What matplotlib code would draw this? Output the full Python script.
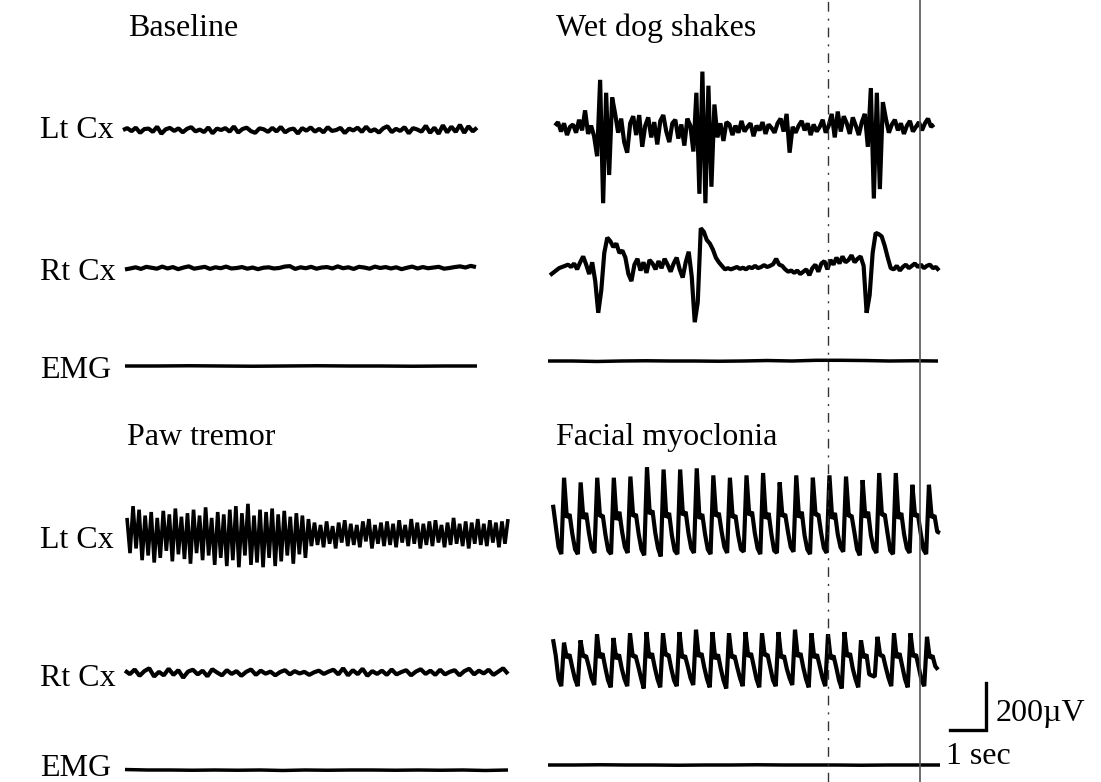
import numpy as np
from matplotlib import pyplot as plt

# Trace values in microvolts, evenly sampled along each sweep.
BASE_LT = [0, 8, -5, 10, -12, 4, 6, -8, 14, -16, 3, 9, -4, 7, -10, 5, 12, -6, 2, -9,
           11, -14, 6, 0, 8, -7, 15, -11, 4, 10, -5, -12, 7, 3, -8, 9, -6, 13, -10, 2,
           6, -15, 8, -3, 11, -7, 5, -10, 12, -4, 0, 9, -13, 6, -2, 10, -8, 14, -6, 3,
           -11, 7, 16, -9, 5, -4, 12, -14, 8, 2, -7, 18, -12, 10, -16, 20, -10, 14, -8, 22,
           -12, 16, -6, 10]
BASE_RT = [-6, -2, 3, -4, 5, 1, -3, 6, -2, 4, -5, 2, 7, -3, 1, 5, -4, 3, -1, 6,
           -2, 0, 4, -3, 2, -5, 1, 3, -2, 0, 6, 8, -4, 3, -1, 5, -3, 2, 4, -2,
           7, -1, 3, -4, 5, 2, -3, 6, 0, 4, -2, 3, -5, 1, 6, -2, 4, -1, 2, 5,
           -3, 0, 4, 7, 2, 9, 4]
BASE_EMG = [0, 0, 1, 0, -1, 0, 1, 0, 0, -1, 0, 0]

WDS_LT = [10, 25, -15, 20, -30, 5, 15, -20, 35, -10, 75, -25, 10, -35,
          -120, 205, -320, 150, -200, 130, 60,
          -20, 40, -60, -105, 20, 50, -30, 55, -80, 10, 45, -40, 25, -70, 30, 55, -15, -60,
          20, 35, -45, 15, -75, 40, 10,
          -100, 150, -280, 240, -320, 180, -250, 100,
          -40, 20, -55, 25, 15, -30, 10, -20, 30, -15, 5, 20, -35, 10, -10, 25, -25, 15, 0,
          -20, 20, 40, -15, 60, -105, 5, -20, 10, 30, -10, 20, -30, 15, -15, 5, 35, -20, 10,
          60, -40, 70, -15, 50, 20, -25, 45, 10, -30, 25, 60,
          -80, 170, -300, 150, -260, 110,
          40, -20, 15, 35, -10, 20, -25, 10, 30, -15, 5, 25, -10, 20, 40, 5, 15]
WDS_RT = [-35, -25, -15, -5, 0, 5, 10, 0, 15, -10, 20,
          45, 10, -30, 20, -60,
          -195, -100, 60, 125, 110,
          85, 100, 60, 70, 40, -30, -60, 10, 35, -15,
          20, -25, 30, 15, -10, 25, -5, 35, 10, -20, 15, 40, -10, -45, 20,
          65, -40, -235, -150, 165,
          150, 115, 100, 75, 40, 20, 5, -10,
          -5, -10, -5, 0, -8, -3, -10, 0, -5, 5, -5, 0, 8, 0, 5, 12, 35, 10, 5, -10, -20, -15,
          -25, -15, -30, -20, -10, -35, -5, 10, -20, 15, 25, -10, 30, 10, 40, 15, 45, 20, 30,
          50, 20, 35, 45, 5,
          -195, -120, 60, 145, 140, 130,
          90, 40, -5, -10, 5, -15, 0, 10, -5, 5, 15, 0, 10, -5, 5, 10, -5, 0, -15]
WDS_EMG = [0, 0, -2, 0, 1, 0, 0, -1, 0, 2, 0, 3, 3, 2, 0, 1, 0]

PAW_LT = [60, -90, 110, -70, 95, -120, 70, -100, 85, -130, 60, -110, 90, -80, 75, -125,
          100, -95, 65, -115, 80, -135, 95, -90, 70, -120, 105, -100, 60, -140, 85, -110,
          75, -145, 95, -120, 110, -150, 80, -100, 120, -140, 70, -130, 95, -150, 85, -110,
          100, -145, 75, -125, 90, -100, 65, -135, 80, -95, 70, -110, 55,
          -60, 40, -55, 30, -65, 45, -50, 25, -70, 40, -45, 50, -60, 35, -55, 30, -65, 45,
          -40, 55, -70, 30, -50, 40, -60, 45, -55, 35, -65, 50, -45, 30, -60, 55, -50, 40,
          -70, 35, -55, 45, -60, 50, -45, 30, -65, 40, -55, 60, -50, 35, -60, 45, -70, 40,
          -50, 55, -55, 35, -60, 50, -45, 40, -65, 45, -50, 55]
PAW_RT = [10, -5, 15, -12, 8, 20, -15, 5, -10, 18, -8, 12, -20, 6, 14, -6, 10, -14, 16, 2,
          -10, 12, -4, 8, -12, 5, 15, -8, 10, -3, 6, -10, 4, 12, -6, 8, -2, 5, -8, 3,
          10, -4, 6, 14, -6, 20, -10, 12, -5, 18, -12, 8, -4, 10, -8, 15, -6, 4, 12, -10,
          6, 16, -4, 10, -8, 14, -6, 5, 12, -10, 8, 18, -6, 10, -2, 14, -8, 6, 20, -4]
PAW_EMG = [2, 0, 0, -1, 0, -1, 0, -2, 0, -1, 0, 0, -1, 0, -1, 0, -2, 0]

FM_LT = [150, 60, -30, -60,
         265, 95, 110, 25, -40, -60,
         245, 90, 115, 30, -35, -55,
         265, 100, 105, 20, -45, -60,
         265, 85, 120, 35, -30, -55,
         270, 100, 110, 25, -40, -65,
         310, 110, 125, 30, -35, -70,
         300, 95, 115, 20, -45, -60,
         300, 105, 120, 30, -35, -55,
         305, 90, 110, 25, -40, -60,
         275, 100, 115, 35, -30, -55,
         265, 95, 105, 20, -40, -50,
         275, 105, 120, 30, -35, -60,
         285, 90, 115, 25, -45, -55,
         245, 100, 110, 35, -30, -50,
         275, 95, 120, 20, -40, -60,
         265, 105, 110, 30, -35, -55,
         275, 90, 115, 25, -30, -50,
         270, 100, 105, 35, -40, -65,
         255, 95, 120, 20, -35, -55,
         285, 105, 110, 30, -45, -60,
         285, 90, 115, 25, -35, -55,
         235, 100, 110, 30, -40, -60,
         235, 95, 105, 35, 30]
FM_RT = [110, 40, -60, -90,
         95, 30, 45, -10, -60, -90,
         105, 35, 40, -5, -55, -85,
         130, 30, 50, -10, -65, -95,
         115, 25, 45, -15, -60, -90,
         135, 35, 40, -5, -55, -100,
         140, 30, 50, -10, -60, -95,
         135, 40, 45, -15, -65, -90,
         140, 30, 40, -5, -55, -85,
         150, 35, 50, -10, -60, -95,
         140, 25, 45, -15, -65, -100,
         135, 30, 40, -10, -55, -90,
         140, 35, 50, -5, -60, -95,
         135, 40, 45, -10, -65, -90,
         140, 30, 40, -15, -55, -85,
         150, 35, 50, -10, -60, -95,
         135, 30, 45, -5, -55, -90,
         130, 25, 40, -10, -65, -100,
         140, 35, 50, -15, -60, -95,
         105, 30, 45, -40, -45, -50,
         120, 40, 40, -10, -55, -90,
         135, 30, 50, -5, -60, -95,
         135, 35, 45, -10, -65, -90,
         120, 30, 40, -5, -20]
FM_EMG = [0, 0, 1, 0, 0, -1, 0, 0, 1, 0, 0, 0, -1, 0, 0, 0]

TRACE_LABELS = ["Lt Cx", "Rt Cx", "EMG"]
CONDITIONS = ["Baseline", "Wet dog shakes", "Paw tremor", "Facial myoclonia"]
SCALE_UV = 200
SCALE_SEC = 1

PX_PER_UV = 47 / 200
PX_PER_SEC = 36
SERIF = "Liberation Serif"
FS = 23
EEG_LW = 3.0
EMG_LW = 2.5

fig = plt.figure(figsize=(11.01, 7.82), dpi=100)
ax = fig.add_axes([0, 0, 1, 1])
ax.set_xlim(0, 1101)
ax.set_ylim(782, 0)
ax.axis("off")


def draw_trace(values, x0, x1, y0, lw=EEG_LW):
    xs = np.linspace(x0, x1, len(values))
    ys = y0 - np.array(values) * PX_PER_UV
    ax.plot(xs, ys, color="black", lw=lw, solid_joinstyle="bevel",
            solid_capstyle="butt")


# Top panel
draw_trace(BASE_LT, 123, 477, 130)
draw_trace(BASE_RT, 125, 476, 268)
draw_trace(BASE_EMG, 125, 477, 366, lw=EMG_LW)
draw_trace(WDS_LT, 555, 934, 128)
draw_trace(WDS_RT, 550, 939, 267)
draw_trace(WDS_EMG, 548, 938, 361, lw=EMG_LW)

# Bottom panel
draw_trace(PAW_LT, 127, 508, 532, lw=2.6)
draw_trace(PAW_RT, 125, 508, 673)
draw_trace(PAW_EMG, 125, 508, 770, lw=EMG_LW)
draw_trace(FM_LT, 553, 940, 540)
draw_trace(FM_RT, 553, 938, 665)
draw_trace(FM_EMG, 548, 940, 765, lw=EMG_LW)

# Event markers
ax.axvline(828, color="#333333", lw=1.0, ls=(0, (7, 5, 1.5, 5)))
ax.axvline(920, color="#555555", lw=1.2)

# Titles and row labels
ax.text(128, 36, CONDITIONS[0], family=SERIF, fontsize=FS, va="baseline")
ax.text(556, 36, CONDITIONS[1], family=SERIF, fontsize=FS, va="baseline")
ax.text(127, 445, CONDITIONS[2], family=SERIF, fontsize=FS, va="baseline")
ax.text(556, 445, CONDITIONS[3], family=SERIF, fontsize=FS, va="baseline")
for y, lab in zip([138, 280, 378], TRACE_LABELS):
    ax.text(40, y, lab, family=SERIF, fontsize=FS, va="baseline")
for y, lab in zip([548, 686, 776], TRACE_LABELS):
    ax.text(40, y, lab, family=SERIF, fontsize=FS, va="baseline")

# Scale bar
bar_x, bar_y = 986, 730
ax.plot([bar_x - SCALE_SEC * PX_PER_SEC, bar_x, bar_x],
        [bar_y, bar_y, bar_y - SCALE_UV * PX_PER_UV],
        color="black", lw=2.4, solid_joinstyle="miter")
ax.text(996, 721, f"{SCALE_UV}\u00b5V", family=SERIF, fontsize=FS, va="baseline")
ax.text(946, 764, f"{SCALE_SEC} sec", family=SERIF, fontsize=FS, va="baseline")

fig.savefig("out.png", dpi=100)
